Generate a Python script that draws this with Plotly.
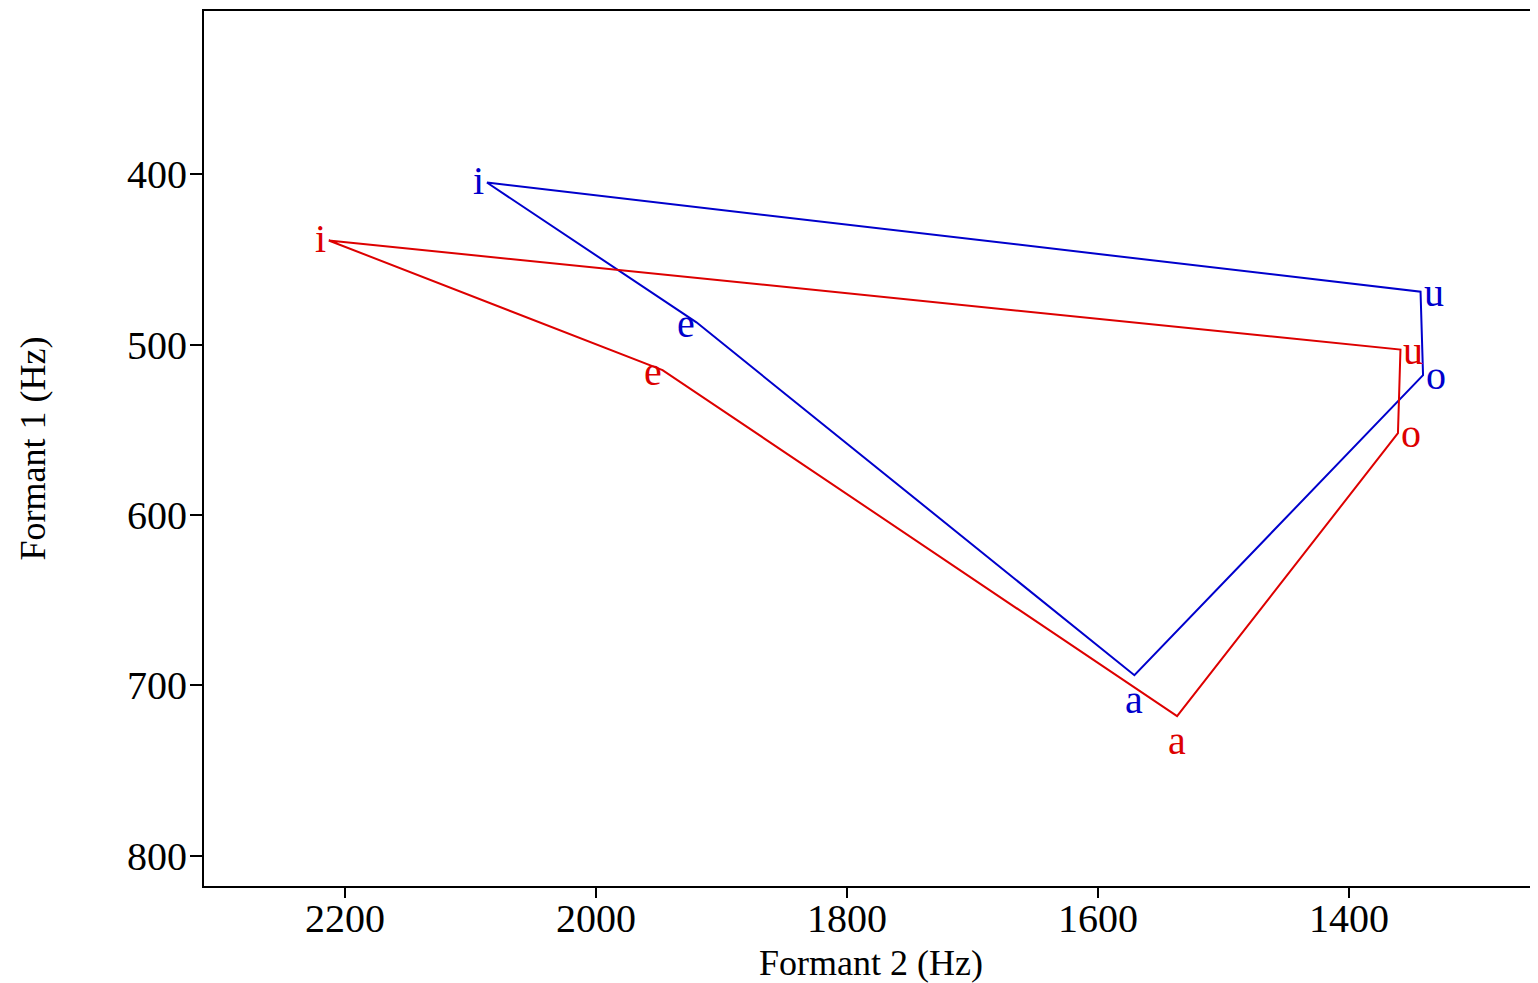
import plotly.graph_objects as go

vowels = ["i", "e", "a", "o", "u"]

# Series 1 (blue)
blue_f2 = [2087, 1920, 1571, 1341, 1343]
blue_f1 = [405, 487, 694, 518, 469]

# Series 2 (red)
red_f2 = [2213, 1947, 1537, 1361, 1359]
red_f1 = [439, 515, 718, 552, 503]

x_ticks = [2200, 2000, 1800, 1600, 1400]
y_ticks = [400, 500, 600, 700, 800]

BLUE = "#0000CC"
RED = "#DD0000"
FONT = "Liberation Serif, Times New Roman, serif"

# label placement style per vowel: (xanchor, yanchor, xshift, yshift)
label_style = {
    "i": ("right", "middle", -1, 2),
    "e": ("right", "middle", 1, -1),
    "a": ("center", "middle", 0, -24),
    "o": ("left", "middle", 1, 0),
    "u": ("left", "middle", 1, -1),
}

fig = go.Figure()
for f2, f1, col in [(blue_f2, blue_f1, BLUE), (red_f2, red_f1, RED)]:
    fig.add_trace(go.Scatter(
        x=f2 + [f2[0]], y=f1 + [f1[0]], mode="lines",
        line=dict(color=col, width=2), showlegend=False, hoverinfo="skip",
    ))
    for v, xv, yv in zip(vowels, f2, f1):
        xa, ya, xs, ys = label_style[v]
        fig.add_annotation(
            x=xv, y=yv, text=v, showarrow=False,
            xanchor=xa, yanchor=ya, xshift=xs, yshift=ys,
            font=dict(family=FONT, size=40, color=col),
        )

# The page body keeps its default 8px margin, so the figure is sized to end
# exactly at the window edges.
fig.update_layout(
    width=1530, height=975,
    margin=dict(l=196, r=0, t=3, b=97),
    paper_bgcolor="white", plot_bgcolor="white",
    font=dict(family=FONT, size=40, color="black"),
    showlegend=False,
)
fig.update_xaxes(
    range=[2312.4, 1249.4], tickvals=x_ticks, ticktext=[str(t) for t in x_ticks],
    showgrid=False, zeroline=False, showline=True, linecolor="black", linewidth=2,
    mirror=True, ticks="outside", ticklen=10, tickwidth=2, tickcolor="black",
    tickfont=dict(family=FONT, size=40), automargin=False, ticklabelstandoff=-14,
    title=dict(text="Formant 2 (Hz)", font=dict(family=FONT, size=36), standoff=12),
)
fig.update_yaxes(
    range=[817.6, 304.4], tickvals=y_ticks, ticktext=[str(t) for t in y_ticks],
    showgrid=False, zeroline=False, showline=True, linecolor="black", linewidth=2,
    mirror=False, ticks="outside", ticklen=12, tickwidth=2, tickcolor="black",
    tickfont=dict(family=FONT, size=40), automargin=False, ticklabelstandoff=-5,
    title=dict(text="Formant 1 (Hz)", font=dict(family=FONT, size=36), standoff=70),
)

fig.write_html("out.html", config={"displayModeBar": False})
